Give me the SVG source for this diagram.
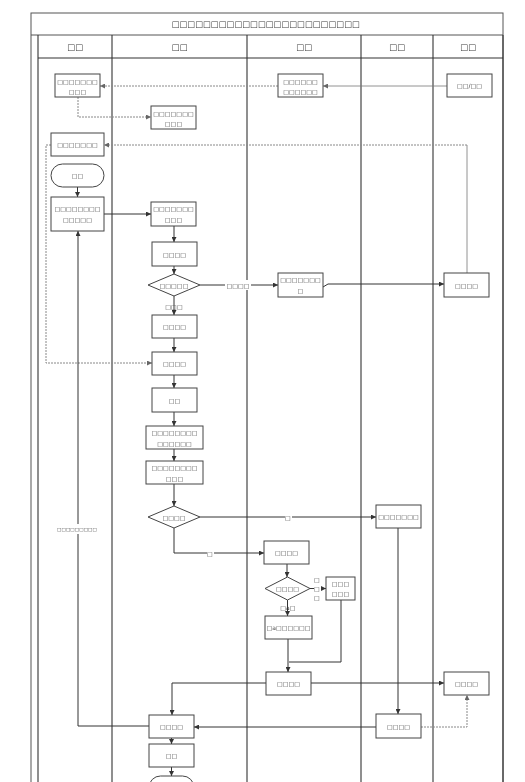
<svg xmlns="http://www.w3.org/2000/svg" width="525" height="782" viewBox="0 0 525 782">
<defs>
<marker id="ar" viewBox="0 0 6 6" refX="6" refY="3" markerWidth="5" markerHeight="5" orient="auto" markerUnits="userSpaceOnUse">
<path d="M0,0 L6,3 L0,6 z" fill="#333"/>
</marker>
<marker id="arg" viewBox="0 0 6 6" refX="6" refY="3" markerWidth="5" markerHeight="5" orient="auto" markerUnits="userSpaceOnUse">
<path d="M0,0 L6,3 L0,6 z" fill="#666"/>
</marker>
<filter id="gray" x="0" y="0" width="525" height="782" filterUnits="userSpaceOnUse"><feColorMatrix type="saturate" values="0"/></filter>
</defs>
<style>
.frame{fill:none;stroke:#555;stroke-width:1}
.lane{stroke:#333;stroke-width:1.1}
.box{fill:#fff;stroke:#444;stroke-width:1}
.c{fill:none;stroke:#333;stroke-width:1;marker-end:url(#ar)}
.cn{fill:none;stroke:#333;stroke-width:1}
.d{fill:none;stroke:#888;stroke-width:1;stroke-dasharray:2,1;marker-end:url(#arg)}
.g{fill:none;stroke:#777;stroke-width:0.8;marker-end:url(#arg)}
.gn{fill:none;stroke:#777;stroke-width:0.8}
text{font-family:"DejaVu Sans",sans-serif;fill:#3a3a3a;text-anchor:middle;dominant-baseline:central}
.tt{font-size:8.3px}
.h{font-size:8.4px}
.n{font-size:6px;letter-spacing:0.1px}
.s{font-size:4.6px}
.lb{fill:#fff;stroke:none}
</style>
<g id="diagram" filter="url(#gray)">
<rect x="0" y="0" width="525" height="782" fill="#fff"/>
<g id="pool">
<rect class="frame" x="31" y="13" width="472" height="790"/>
<line class="frame" x1="31" y1="35" x2="503" y2="35"/>
<text class="tt" x="266" y="24">□□□□□□□□□□□□□□□□□□□□□□□□</text>
<line class="lane" x1="38" y1="35" x2="38" y2="782"/>
<line class="lane" x1="112" y1="35" x2="112" y2="782"/>
<line class="lane" x1="247" y1="35" x2="247" y2="782"/>
<line class="lane" x1="361" y1="35" x2="361" y2="782"/>
<line class="lane" x1="433" y1="35" x2="433" y2="782"/>
<line class="lane" x1="503" y1="35" x2="503" y2="782"/>
<line class="lane" x1="38" y1="58" x2="503" y2="58"/>
<text class="h" x="75" y="47">□□</text>
<text class="h" x="179.5" y="47">□□</text>
<text class="h" x="304" y="47">□□</text>
<text class="h" x="397" y="47">□□</text>
<text class="h" x="468" y="47">□□</text>
</g>
<g id="connectors">
<path class="g" d="M447,86 H323"/>
<path class="d" d="M278,86 H100"/>
<path class="d" d="M78,97 V117 H151"/>
<path class="gn" d="M467,273 V145"/>
<path class="d" d="M467,145 H104"/>
<path class="d" d="M51,145 H46 V363 H152"/>
<path class="c" d="M77.5,187 V197"/>
<path class="c" d="M104,214 H151"/>
<path class="c" d="M174,226 V242"/>
<path class="c" d="M174,266 V274"/>
<path class="c" d="M174,296 V315"/>
<path class="c" d="M174,338 V352"/>
<path class="c" d="M174,375 V388"/>
<path class="c" d="M174,412 V426"/>
<path class="c" d="M174,449 V461"/>
<path class="c" d="M174,484 V506"/>
<path class="c" d="M200,285 H278"/>
<path class="c" d="M323,287 L328,284 H444"/>
<path class="c" d="M200,517 H376"/>
<path class="c" d="M174,528 V553 H264"/>
<path class="c" d="M287,564 V577"/>
<path class="c" d="M310,588.5 H326"/>
<path class="c" d="M287.5,600 V616"/>
<path class="c" d="M288,639 V672"/>
<path class="cn" d="M341,600 V662 H289"/>
<path class="c" d="M311,683 H444"/>
<path class="c" d="M266,683 H172 V715"/>
<path class="c" d="M398,528 V714"/>
<path class="d" d="M421,727 H467 V695"/>
<path class="c" d="M376,727 H194"/>
<path class="c" d="M149,726 H78 V231"/>
<path class="c" d="M171.5,738 V744"/>
<path class="c" d="M171.5,767 V776"/>
<rect class="lb" x="225" y="280" width="26" height="10"/>
<text class="n" x="238" y="285">□□□□</text>
<text class="n" x="174" y="306">□□□</text>
<rect class="lb" x="285" y="512" width="7" height="10"/>
<text class="n" x="288" y="517">□</text>
<rect class="lb" x="207" y="548" width="7" height="10"/>
<text class="n" x="210" y="553">□</text>
<rect class="lb" x="314" y="575" width="7" height="26"/>
<text class="n" x="317" y="579">□</text>
<text class="n" x="317" y="588">□</text>
<text class="n" x="317" y="597">□</text>
<text class="n" x="288" y="607">□a□</text>
<rect class="lb" x="56" y="524" width="42" height="10"/>
<text class="n s" x="77" y="529">□□□□□□□□□</text>
</g>
<g id="nA"><rect class="box" x="55" y="74" width="45" height="23"/><text class="n" x="77.5" y="81">□□□□□□□</text><text class="n" x="77.5" y="91">□□□</text></g>
<g id="nB"><rect class="box" x="151" y="106" width="45" height="23"/><text class="n" x="173.5" y="113">□□□□□□□</text><text class="n" x="173.5" y="123">□□□</text></g>
<g id="nAA"><rect class="box" x="278" y="74" width="45" height="23"/><text class="n" x="300.5" y="81">□□□□□□</text><text class="n" x="300.5" y="91">□□□□□□</text></g>
<g id="nV0"><rect class="box" x="447" y="74" width="45" height="23"/><text class="n" x="469.5" y="85.5">□□/□□</text></g>
<g id="nC"><rect class="box" x="51" y="133" width="53" height="23"/><text class="n" x="77.5" y="144.5">□□□□□□□</text></g>
<g id="nStart"><rect class="box" x="51" y="164" width="53" height="23" rx="11.5"/><text class="n" x="77.5" y="175.5">□□</text></g>
<g id="nD"><rect class="box" x="51" y="197" width="53" height="34"/><text class="n" x="77.5" y="208">□□□□□□□□</text><text class="n" x="77.5" y="219">□□□□□</text></g>
<g id="nE"><rect class="box" x="151" y="202" width="45" height="24"/><text class="n" x="173.5" y="208.5">□□□□□□□</text><text class="n" x="173.5" y="219">□□□</text></g>
<g id="nF"><rect class="box" x="152" y="242" width="45" height="24"/><text class="n" x="174.5" y="254">□□□□</text></g>
<g id="nG"><path class="box" d="M148,285 L174,274 L200,285 L174,296 Z"/><text class="n" x="174" y="285">□□□□□</text></g>
<g id="nH"><rect class="box" x="278" y="273" width="45" height="24"/><text class="n" x="300.5" y="279.5">□□□□□□□</text><text class="n" x="300.5" y="290">□</text></g>
<g id="nI"><rect class="box" x="444" y="273" width="45" height="24"/><text class="n" x="466.5" y="285">□□□□</text></g>
<g id="nJ"><rect class="box" x="152" y="315" width="45" height="23"/><text class="n" x="174.5" y="326.5">□□□□</text></g>
<g id="nK"><rect class="box" x="152" y="352" width="45" height="23"/><text class="n" x="174.5" y="363.5">□□□□</text></g>
<g id="nL"><rect class="box" x="152" y="388" width="45" height="24"/><text class="n" x="174.5" y="400">□□</text></g>
<g id="nM"><rect class="box" x="146" y="426" width="57" height="23"/><text class="n" x="174.5" y="432">□□□□□□□□</text><text class="n" x="174.5" y="443">□□□□□□</text></g>
<g id="nN"><rect class="box" x="146" y="461" width="57" height="23"/><text class="n" x="174.5" y="467">□□□□□□□□</text><text class="n" x="174.5" y="478">□□□</text></g>
<g id="nO"><path class="box" d="M148,517 L174,506 L200,517 L174,528 Z"/><text class="n" x="174" y="517">□□□□</text></g>
<g id="nP"><rect class="box" x="376" y="505" width="45" height="23"/><text class="n" x="398.5" y="516.5">□□□□□□□</text></g>
<g id="nQ"><rect class="box" x="264" y="541" width="45" height="23"/><text class="n" x="286.5" y="552.5">□□□□</text></g>
<g id="nR"><path class="box" d="M265,588.5 L287.5,577 L310,588.5 L287.5,600 Z"/><text class="n" x="287.5" y="588.5">□□□□</text></g>
<g id="nS"><rect class="box" x="326" y="577" width="29" height="23"/><text class="n" x="340.5" y="583">□□□</text><text class="n" x="340.5" y="593.5">□□□</text></g>
<g id="nT"><rect class="box" x="265" y="616" width="47" height="23"/><text class="n" x="288.5" y="627.5">□a□□□□□□</text></g>
<g id="nU"><rect class="box" x="266" y="672" width="45" height="23"/><text class="n" x="288.5" y="683.5">□□□□</text></g>
<g id="nV"><rect class="box" x="444" y="672" width="45" height="23"/><text class="n" x="466.5" y="683.5">□□□□</text></g>
<g id="nX"><rect class="box" x="376" y="714" width="45" height="24"/><text class="n" x="398.5" y="726">□□□□</text></g>
<g id="nW"><rect class="box" x="149" y="715" width="45" height="23"/><text class="n" x="171.5" y="726.5">□□□□</text></g>
<g id="nY"><rect class="box" x="149" y="744" width="45" height="23"/><text class="n" x="171.5" y="755.5">□□</text></g>
<g id="nEnd"><rect class="box" x="149" y="776" width="45" height="23" rx="11.5"/></g>
</g>
</svg>
